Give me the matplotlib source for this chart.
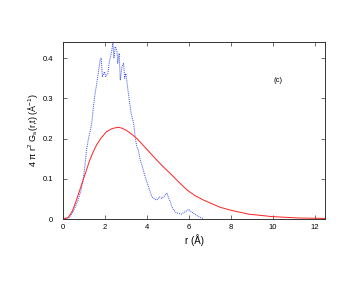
import matplotlib
matplotlib.use("Agg")
import matplotlib.pyplot as plt

plt.rcParams['font.family'] = ['Liberation Sans', 'DejaVu Sans']
plt.rcParams['mathtext.default'] = 'regular'

# Red smooth curve (r, 4 pi r^2 Gs)
red_r = [0.0, 0.24, 0.45, 0.64, 0.8, 0.96, 1.12, 1.28, 1.44, 1.6, 1.8, 2.07, 2.35, 2.63, 2.8, 3.0, 3.25, 3.53, 3.9, 4.32, 4.7, 5.12, 5.5, 5.92, 6.3, 6.71, 7.1, 7.51, 8.07, 8.87, 9.98, 11.26, 12.5]
red_y = [0.0, 0.003, 0.02, 0.047, 0.072, 0.097, 0.122, 0.147, 0.167, 0.184, 0.2, 0.217, 0.225, 0.228, 0.226, 0.221, 0.212, 0.2, 0.179, 0.155, 0.134, 0.113, 0.093, 0.072, 0.058, 0.047, 0.038, 0.029, 0.021, 0.012, 0.006, 0.0025, 0.0015]

# Blue noisy dotted curve
blue_r = [0.0, 0.32, 0.5, 0.72, 0.85, 0.96, 1.04, 1.12, 1.2, 1.31, 1.37, 1.45, 1.53, 1.61, 1.69, 1.77, 1.82, 1.88, 1.98, 2.04, 2.14, 2.2, 2.28, 2.33, 2.38, 2.43, 2.49, 2.57, 2.61, 2.68, 2.73, 2.81, 2.89, 2.94, 3.0, 3.1, 3.16, 3.25, 3.37, 3.44, 3.52, 3.6, 3.68, 3.76, 3.92, 4.08, 4.24, 4.36, 4.48, 4.6, 4.72, 4.85, 4.96, 5.04, 5.12, 5.2, 5.28, 5.4, 5.52, 5.64, 5.76, 5.88, 6.0, 6.12, 6.24, 6.35, 6.47, 6.6, 6.71]
blue_y = [0.0, 0.005, 0.02, 0.047, 0.07, 0.097, 0.13, 0.171, 0.196, 0.221, 0.238, 0.279, 0.312, 0.337, 0.366, 0.395, 0.40, 0.354, 0.366, 0.354, 0.362, 0.387, 0.407, 0.42, 0.44, 0.40, 0.428, 0.42, 0.387, 0.412, 0.345, 0.378, 0.387, 0.35, 0.362, 0.32, 0.296, 0.263, 0.238, 0.204, 0.18, 0.17, 0.147, 0.135, 0.105, 0.08, 0.055, 0.05, 0.047, 0.055, 0.051, 0.058, 0.064, 0.052, 0.043, 0.03, 0.022, 0.016, 0.014, 0.012, 0.016, 0.02, 0.024, 0.018, 0.014, 0.01, 0.006, 0.003, 0.001]

xticks = [0, 2, 4, 6, 8, 10, 12]
yticks = [0, 0.1, 0.2, 0.3, 0.4]
ytick_labels = ['0', '0.1', '0.2', '0.3', '0.4']

fig = plt.figure(figsize=(3.63, 2.81), dpi=100)
ax = fig.add_axes([0.1736, 0.2206, 0.7217, 0.6299])

ax.plot(blue_r, blue_y, color='#3a4cf0', linestyle=(0, (1, 1)), linewidth=0.7)
ax.plot(red_r, red_y, color='#ff2020', linewidth=0.7)

ax.set_xlim(0, 12.5)
ax.set_ylim(0, 0.44)
ax.set_xticks(xticks)
ax.set_xticklabels([str(t) for t in xticks])
ax.set_yticks(yticks)
ax.set_yticklabels(ytick_labels)
ax.tick_params(direction='in', length=3, width=0.6, labelsize=5.5, top=True, right=True, color='#555555')
ax.tick_params(axis='x', pad=3.5)
ax.tick_params(axis='y', pad=7)
for s in ax.spines.values():
    s.set_linewidth(0.7)
    s.set_color('#333333')

ax.set_xlabel('r (Å)', fontsize=7, labelpad=2)
ax.set_ylabel(r'4 $\pi$ r$^2$ G$_s$(r,t) (Å$^{-1}$)', fontsize=6.5, labelpad=2)
ax.text(10.24, 0.345, '(c)', fontsize=5.5, ha='center', va='center')

fig.savefig('out.png', dpi=100)
